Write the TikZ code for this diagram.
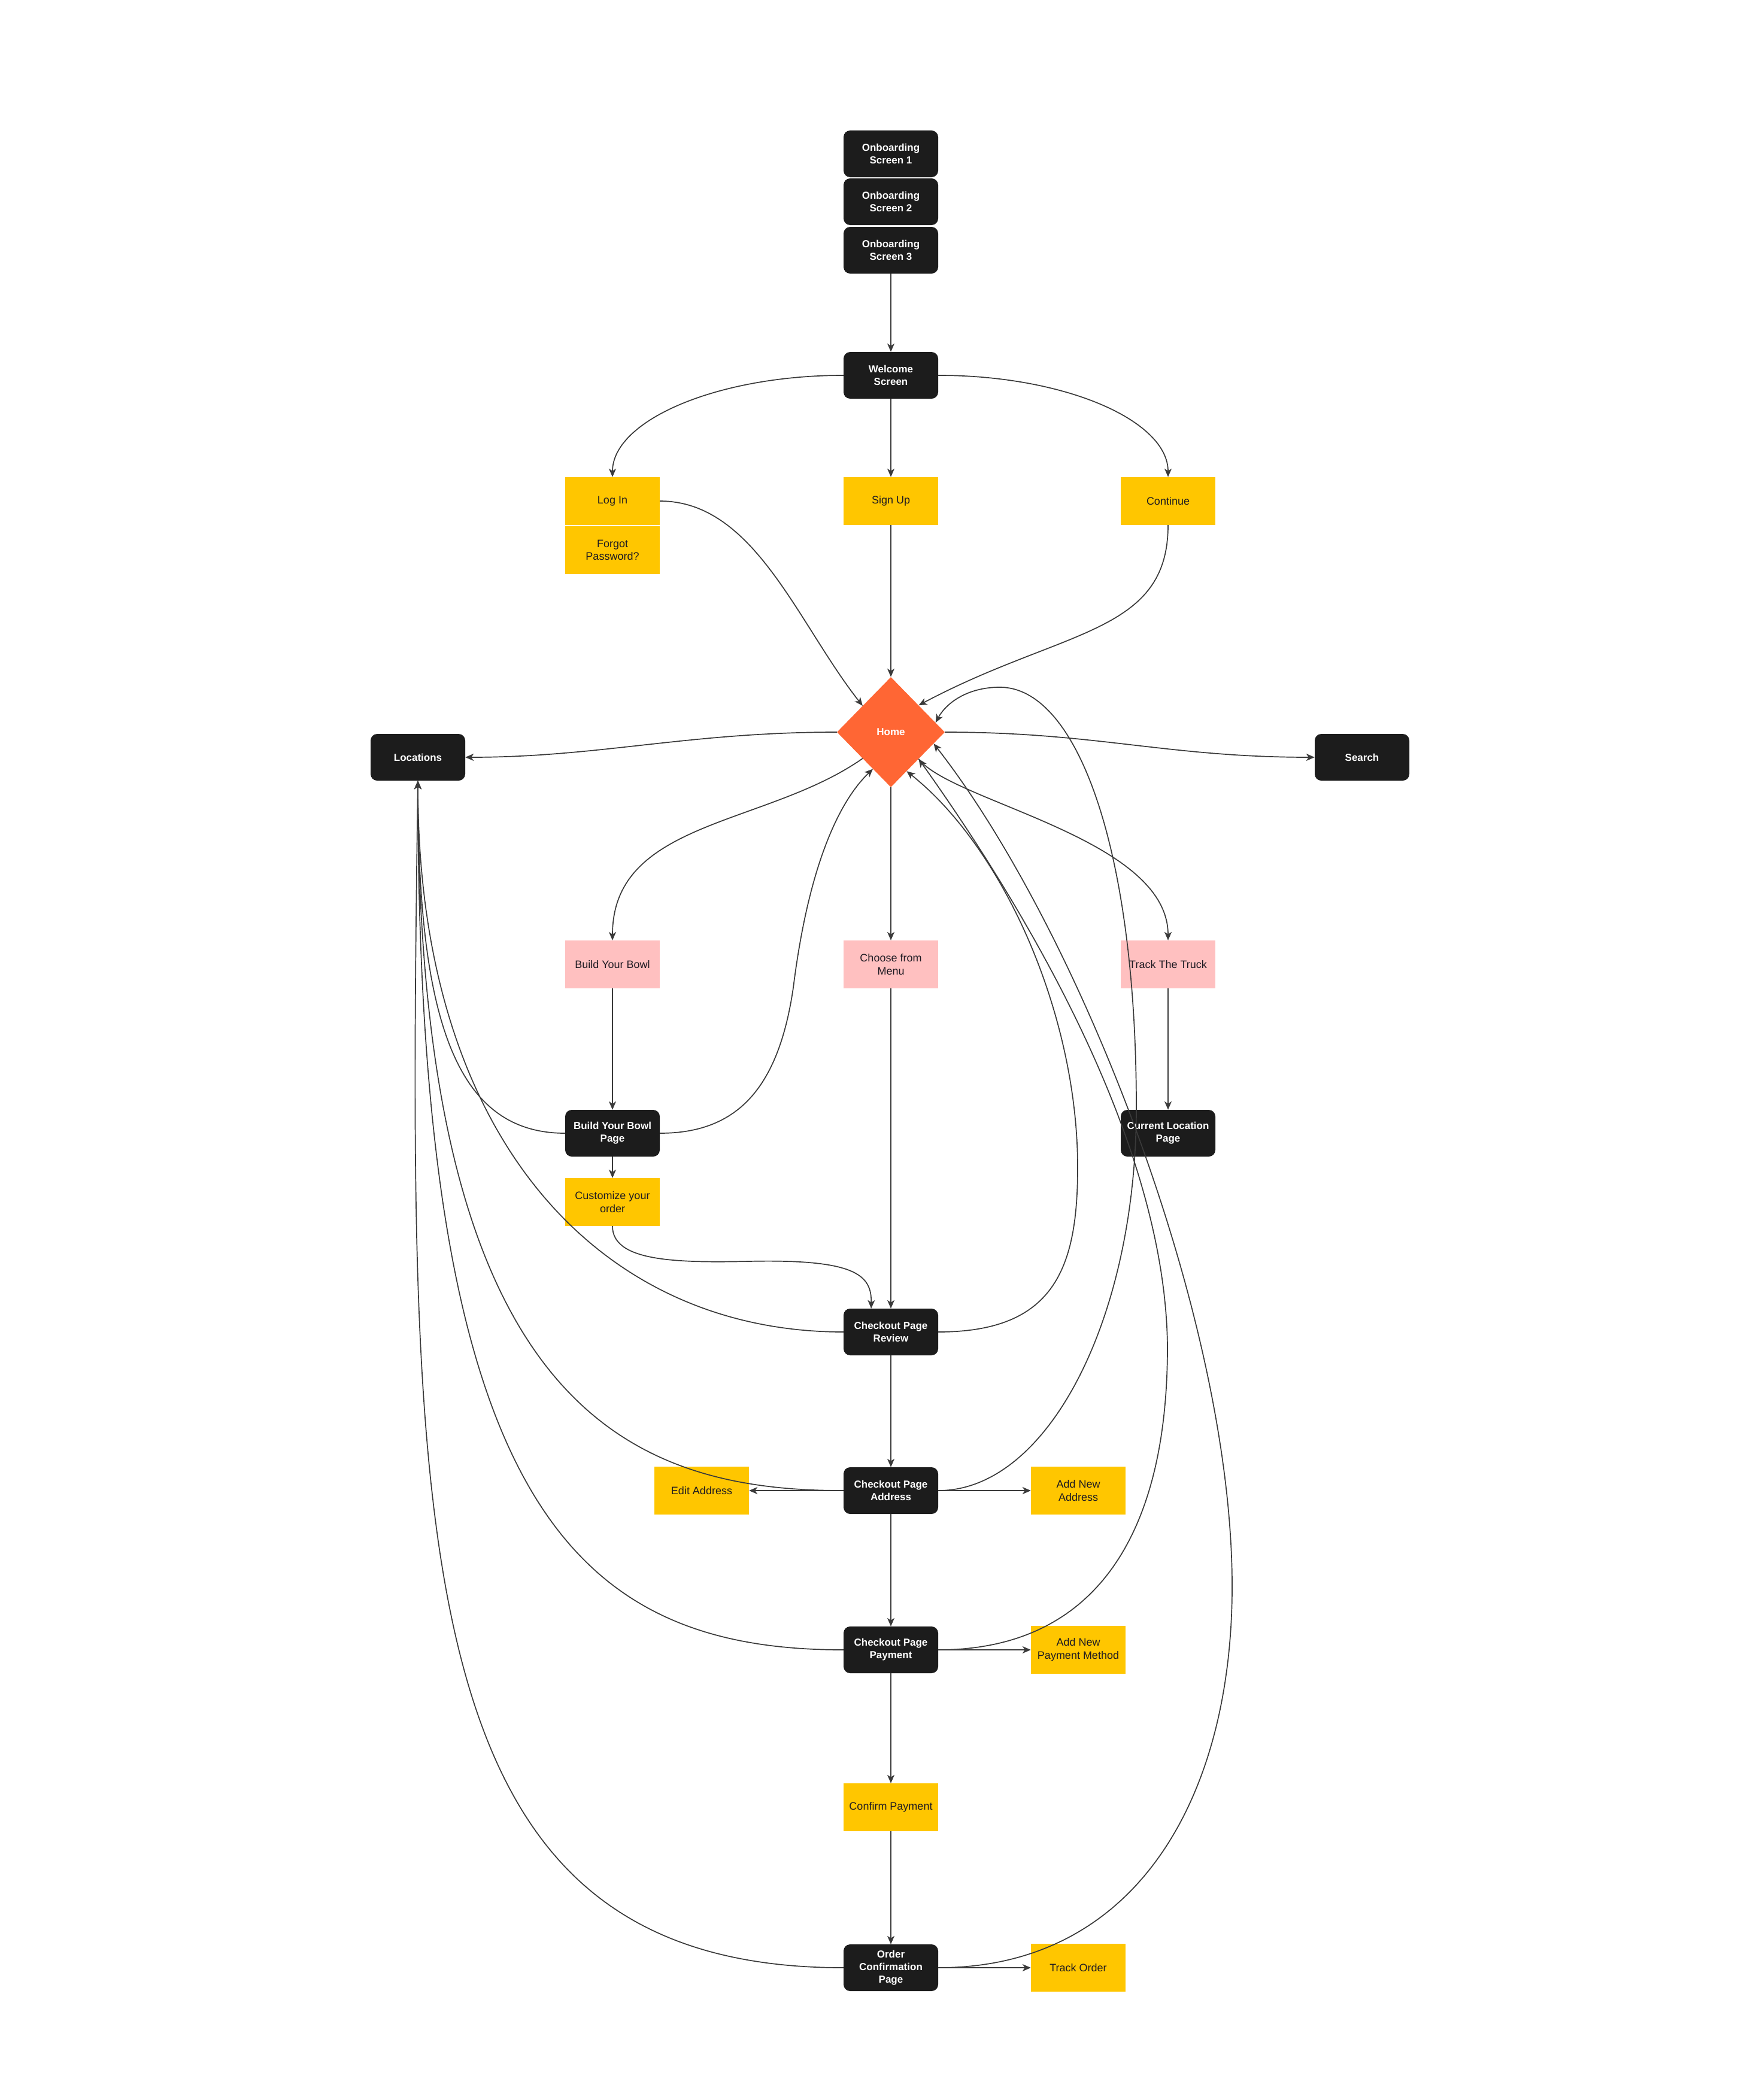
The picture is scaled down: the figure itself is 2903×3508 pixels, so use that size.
\documentclass[tikz,border=0pt]{standalone}
\usepackage{fontspec}
\setmainfont{Liberation Sans}
\usetikzlibrary{shapes.geometric,arrows.meta}

\definecolor{boxdark}{HTML}{1C1C1C}
\definecolor{noteyellow}{HTML}{FFC600}
\definecolor{notepink}{HTML}{FFC0C0}
\definecolor{homeorange}{HTML}{FF6634}
\definecolor{wire}{HTML}{3A3A3A}
\definecolor{ink}{HTML}{1E1A22}

\newcommand\screenfont{\fontsize{17}{21}\selectfont\bfseries}
\newcommand\notefont{\fontsize{18}{21.5}\selectfont}

\tikzset{
  screen/.style={rectangle, rounded corners=11pt, fill=boxdark, text=white,
    font=\screenfont, align=center, minimum width=158pt, minimum height=78pt, inner sep=2pt},
  action/.style={rectangle, fill=noteyellow, text=ink, font=\notefont,
    align=center, minimum width=158pt, minimum height=80pt, inner sep=2pt},
  choice/.style={action, fill=notepink},
  hub/.style={diamond, aspect=1, fill=homeorange, text=white, font=\screenfont,
    minimum width=180pt, minimum height=184pt, inner sep=0pt},
  flow/.style={draw=wire, line width=1.7pt,
    -{Stealth[length=14pt, width=12pt, inset=4pt]}},
}

\begin{document}
\begin{tikzpicture}[x=1pt, y=-1pt]
\fill[white] (0,0) rectangle (2903,3508);
\useasboundingbox (0,0) rectangle (2903,3508);

% onboarding and entry
\node[screen] (ob1) at (1488,257) {Onboarding\\Screen 1};
\node[screen] (ob2) at (1488,337) {Onboarding\\Screen 2};
\node[screen] (ob3) at (1488,418) {Onboarding\\Screen 3};
\node[screen] (welcome) at (1488,627) {Welcome\\Screen};

\node[action] (login) at (1023,837) {Log In};
\node[action] (forgot) at (1023,919) {Forgot\\Password?};
\node[action] (signup) at (1488,837) {Sign Up};
\node[action] (continue) at (1951,837) {Continue};

% home hub
\node[hub] (home) at (1488,1223) {Home};
\node[screen] (locations) at (698,1265) {Locations};
\node[screen] (search) at (2275,1265) {Search};

% ordering paths
\node[choice] (bowl) at (1023,1611) {Build Your Bowl};
\node[choice] (menu) at (1488,1611) {Choose from\\Menu};
\node[choice] (truck) at (1951,1611) {Track The Truck};

\node[screen] (bowlpage) at (1023,1893) {Build Your Bowl\\Page};
\node[screen] (curloc) at (1951,1893) {Current Location\\Page};
\node[action] (custom) at (1023,2008) {Customize your\\order};

% checkout
\node[screen] (review) at (1488,2225) {Checkout Page\\Review};
\node[screen] (address) at (1488,2490) {Checkout Page\\Address};
\node[action] (editaddr) at (1172,2490) {Edit Address};
\node[action] (newaddr) at (1801,2490) {Add New\\Address};
\node[screen] (payment) at (1488,2756) {Checkout Page\\Payment};
\node[action] (newpay) at (1801,2756) {Add New\\Payment Method};
\node[action] (confirm) at (1488,3019) {Confirm Payment};
\node[screen] (orderconf) at (1488,3287) {Order\\Confirmation\\Page};
\node[action] (trackorder) at (1801,3287) {Track Order};

% connectors
\draw[flow] (ob3.south) -- (welcome.north);
\draw[flow] (welcome.west) .. controls (1196,627) and (1023,703) .. (login.north);
\draw[flow] (welcome.south) -- (signup.north);
\draw[flow] (welcome.east) .. controls (1780,627) and (1951,703) .. (continue.north);

\draw[flow] (login.east) .. controls (1260,837) and (1332,1041) .. (home.137);
\draw[flow] (signup.south) -- (home.north);
\draw[flow] (continue.south) .. controls (1951,1060) and (1775,1050) .. (home.44);

\draw[flow] (home.west) .. controls (1150,1223) and (1000,1265) .. (locations.east);
\draw[flow] (home.east) .. controls (1830,1223) and (1950,1265) .. (search.west);
\draw[flow] (home.223) .. controls (1280,1380) and (1023,1370) .. (bowl.north);
\draw[flow] (home.south) -- (menu.north);
\draw[flow] (home.-44) .. controls (1590,1340) and (1951,1400) .. (truck.north);

\draw[flow] (bowl.south) -- (bowlpage.north);
\draw[flow] (truck.south) -- (curloc.north);
\draw[flow] (menu.south) -- (review.north);
\draw[flow] (bowlpage.south) -- (custom.north);

\draw[flow] (bowlpage.east) .. controls (1230,1893) and (1300,1820) .. (1325,1650)
  .. controls (1350,1450) and (1400,1340) .. (home.244);
\draw[flow] (bowlpage.west) .. controls (760,1893) and (698,1700) .. (locations.south);
\draw[flow] (custom.south) .. controls (1023,2105) and (1120,2110) .. (1250,2107)
  .. controls (1430,2103) and (1456,2130) .. (review.130);

\draw[flow] (review.west) .. controls (1000,2225) and (698,1900) .. (locations.south);
\draw[flow] (review.east) .. controls (1760,2225) and (1800,2120) .. (1800,1950)
  .. controls (1800,1700) and (1680,1420) .. (home.-68);
\draw[flow] (review.south) -- (address.north);

\draw[flow] (address.west) -- (editaddr.east);
\draw[flow] (address.east) -- (newaddr.west);
\draw[flow] (address.west) .. controls (1050,2490) and (698,2350) .. (locations.south);
\draw[flow] (address.east) .. controls (1750,2490) and (1898,2203) .. (1898,1850)
  .. controls (1898,1420) and (1800,1148) .. (1670,1148)
  .. controls (1615,1148) and (1580,1175) .. (home.12);
\draw[flow] (address.south) -- (payment.north);

\draw[flow] (payment.east) -- (newpay.west);
\draw[flow] (payment.west) .. controls (950,2756) and (698,2500) .. (locations.south);
\draw[flow] (payment.east) .. controls (1818,2756) and (1950,2579) .. (1950,2250)
  .. controls (1947,1900) and (1700,1500) .. (home.-44);
\draw[flow] (payment.south) -- (confirm.north);
\draw[flow] (confirm.south) -- (orderconf.north);

\draw[flow] (orderconf.east) -- (trackorder.west);
\draw[flow] (orderconf.west) .. controls (680,3287) and (680,2600) .. (locations.south);
\draw[flow] (orderconf.east) .. controls (1900,3287) and (2058,3000) .. (2058,2650)
  .. controls (2058,2200) and (1800,1550) .. (home.-15);
\end{tikzpicture}
\end{document}
